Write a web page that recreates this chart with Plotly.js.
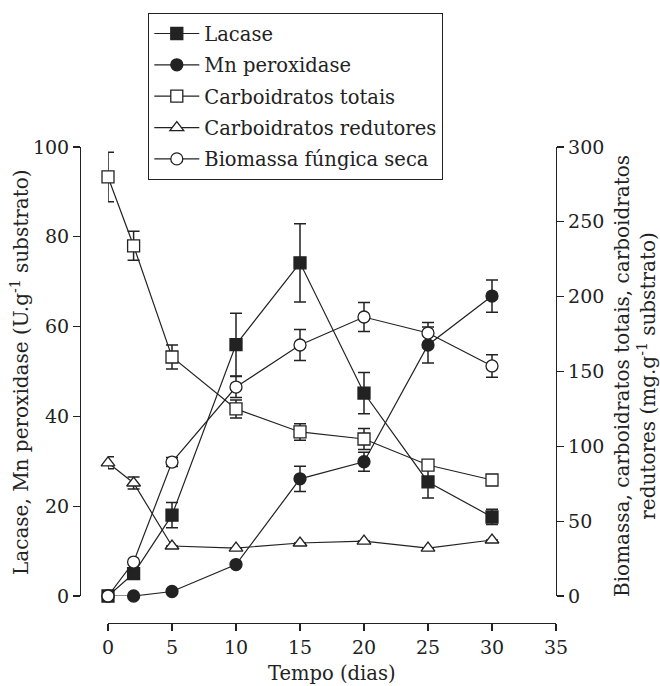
<!DOCTYPE html>
<html>
<head>
<meta charset="utf-8">
<script src="https://cdn.plot.ly/plotly-3.0.1.min.js"></script>
<style>html,body{margin:0;padding:0;background:#fff;}#chart{width:660px;height:686px;}</style>
</head>
<body>
<div id="chart"></div>
<script>
// Tempo (dias)
const days = [0, 2, 5, 10, 15, 20, 25, 30];

// Left axis (U.g-1 substrato)
const lacase      = [0, 5, 18, 56, 74.2, 45.2, 25.4, 17.6];
const lacaseErr   = [null, null, 2.8, 7, 8.7, 4.6, 3.6, 1.7];
const mnPerox     = [0, 0, 1, 7, 26.1, 29.9, 55.9, 66.8];
const mnPeroxErr  = [null, null, null, null, 2.8, 2.1, 4, 3.6];

// Right axis (mg.g-1 substrato)
const carbTotais     = [280, 234, 159.7, 125, 109.6, 104.9, 87.5, 77.5];
const carbTotaisErr  = [16.5, 9.7, 8, 6, 5.5, 7, 3, null];
const carbRedutores  = [89, 75.5, 33.4, 32, 35.4, 36.7, 32, 37.4];
const carbRedErr     = [4, 4, null, null, null, null, null, null];
const biomassa       = [0, 22.7, 89.5, 139.6, 167.7, 186.4, 175.7, 153.7];
const biomassaErr    = [null, null, 3, 7, 10.3, 9.7, 7, 7.5];

const seriesNames = ["Lacase", "Mn peroxidase", "Carboidratos totais", "Carboidratos redutores", "Biomassa fúngica seca"];
const xTicks = [0, 5, 10, 15, 20, 25, 30, 35];
const yLeftTicks = [0, 20, 40, 60, 80, 100];
const yRightTicks = [0, 50, 100, 150, 200, 250, 300];

const INK = '#222';
const FONT = 'DejaVu Serif, Liberation Serif, serif';

function mk(name, y, err, symbol, fill, axis, grp) {
  return {
    type: 'scatter', mode: 'lines+markers', name: name, x: days, y: y,
    yaxis: axis, legendgroup: grp, cliponaxis: false,
    line: {color: INK, width: 1.2},
    marker: {symbol: symbol, size: 12, color: fill, line: {color: INK, width: 1.3}},
    error_y: {type: 'data', array: err, visible: true, color: INK, thickness: 1.5, width: 6}
  };
}

const data = [
  mk(seriesNames[0], lacase, lacaseErr, 'square', INK, 'y', 'a'),
  mk(seriesNames[1], mnPerox, mnPeroxErr, 'circle', INK, 'y', 'b'),
  mk(seriesNames[2], carbTotais, carbTotaisErr, 'square', '#fff', 'y2', 'c'),
  mk(seriesNames[3], carbRedutores, carbRedErr, 'triangle-up', '#fff', 'y2', 'd'),
  mk(seriesNames[4], biomassa, biomassaErr, 'circle', '#fff', 'y2', 'e')
];

const W = 660, H = 686;
const axCommon = {
  showline: true, linecolor: INK, linewidth: 1.3, ticks: 'outside', ticklen: 7,
  tickwidth: 1.3, tickcolor: INK, showgrid: false, zeroline: false,
  tickfont: {family: FONT, size: 19, color: INK}, fixedrange: true
};

const layout = {
  width: W, height: H,
  margin: {l: 0, r: 0, t: 0, b: 0},
  paper_bgcolor: '#fff', plot_bgcolor: 'rgba(0,0,0,0)',
  font: {family: FONT, color: INK},
  showlegend: true,
  legend: {
    x: 148 / W, y: 1 - 13 / H, xanchor: 'left', yanchor: 'top',
    bordercolor: INK, borderwidth: 1.3, bgcolor: '#fff',
    font: {family: FONT, size: 19.5, color: INK},
    tracegroupgap: 3, traceorder: 'grouped', itemwidth: 45
  },
  xaxis: Object.assign({}, axCommon, {
    domain: [108 / W, 556 / W], range: [0, 35], tickvals: xTicks,
    anchor: 'free', position: 63 / H
  }),
  yaxis: Object.assign({}, axCommon, {
    domain: [90 / H, 539 / H], range: [0, 100], tickvals: yLeftTicks,
    anchor: 'free', position: 80 / W
  }),
  yaxis2: Object.assign({}, axCommon, {
    domain: [90 / H, 539 / H], range: [0, 300], tickvals: yRightTicks,
    overlaying: 'y', side: 'right', anchor: 'free', position: 556 / W
  }),
  annotations: [
    {text: 'Tempo (dias)', xref: 'paper', yref: 'paper', x: 332 / W, y: 1 - 673 / H,
     xanchor: 'center', yanchor: 'middle',
     showarrow: false, font: {family: FONT, size: 19.5, color: INK}},
    {text: 'Lacase, Mn peroxidase (U.g<sup>-1</sup> substrato)', xref: 'paper', yref: 'paper',
     x: 20 / W, y: 1 - 372 / H, xanchor: 'center', yanchor: 'middle', textangle: -90, showarrow: false,
     font: {family: FONT, size: 20, color: INK}},
    {text: 'Biomassa, carboidratos totais, carboidratos<br>redutores (mg.g<sup>-1</sup> substrato)',
     xref: 'paper', yref: 'paper', x: 635 / W, y: 1 - 376 / H, xanchor: 'center', yanchor: 'middle',
     textangle: -90, showarrow: false,
     font: {family: FONT, size: 20, color: INK}}
  ]
};

Plotly.newPlot('chart', data, layout, {displayModeBar: false, staticPlot: true});
</script>
</body>
</html>
